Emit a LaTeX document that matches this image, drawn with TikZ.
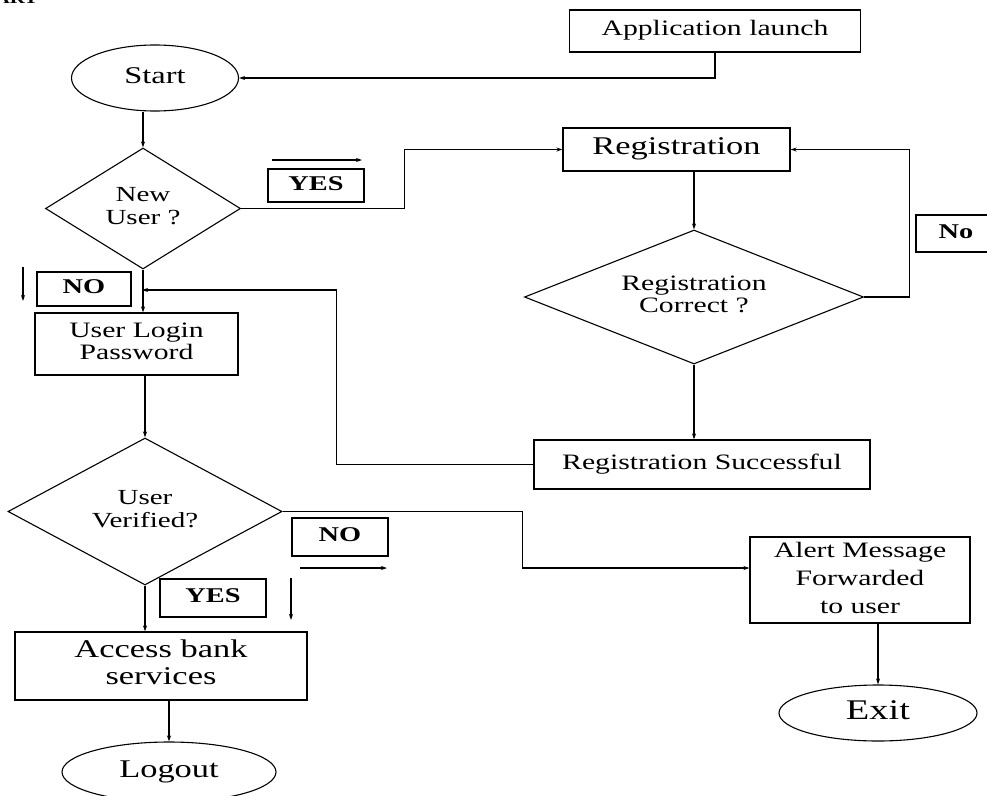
\documentclass[tikz,border=0pt]{standalone}
\usepackage{fontspec}
\setmainfont{Liberation Serif}
\usetikzlibrary{shapes.geometric,arrows.meta}
\newcommand{\wtxt}[1]{\scalebox{1.35}[1]{\begin{tabular}{@{}c@{}}#1\end{tabular}}}

\begin{document}
\begin{tikzpicture}[x=1pt, y=-1pt, line width=1.1pt,
    box/.style={draw, rectangle, inner sep=0pt},
    oval/.style={draw, ellipse, inner sep=0pt},
    dia/.style={draw, diamond, inner sep=0pt},
    lbl/.style={draw, rectangle, inner sep=0pt, font=\bfseries\fontsize{21}{23}\selectfont},
    arr/.style={-{Stealth[length=6pt,width=4pt]}}]
    \useasboundingbox (0,0) rectangle (987,795);
    \clip (0,0) rectangle (987,795);
    \node[anchor=base east, font=\bfseries\fontsize{16}{16}\selectfont] (title) at (42,4) {\scalebox{1.3}[1]{ART}};

    \node[box, minimum width=291pt, minimum height=42pt, font=\fontsize{22}{24}\selectfont] (launch) at (715,31) {\wtxt{Application launch}};
    \node[oval, minimum width=167pt, minimum height=66pt, font=\fontsize{24}{26}\selectfont] (start) at (155,78) {\wtxt{Start}};
    \node[dia, aspect=1.6, minimum width=195pt, minimum height=121pt, font=\fontsize{21.5}{23}\selectfont] (newuser) at (143,208.5) {\wtxt{New\\User ?}};
    \node[box, minimum width=227pt, minimum height=43pt, font=\fontsize{25.5}{27}\selectfont] (reg) at (676.5,149.5) {\wtxt{Registration}};
    \node[dia, aspect=2.5, minimum width=339pt, minimum height=134pt, font=\fontsize{22}{22}\selectfont] (regok) at (694,297) {\wtxt{Registration\\Correct ?}};
    \node[box, minimum width=336pt, minimum height=49pt, font=\fontsize{22}{24}\selectfont] (regdone) at (702,464.5) {\wtxt{Registration Successful}};
    \node[box, minimum width=203pt, minimum height=62pt, font=\fontsize{22}{22.5}\selectfont] (login) at (136.5,344) {\wtxt{User Login\\Password}};
    \node[dia, aspect=1.85, minimum width=274pt, minimum height=147pt, font=\fontsize{21.5}{23}\selectfont] (verified) at (145,511.5) {\wtxt{User\\Verified?}};
    \node[box, minimum width=220pt, minimum height=86pt, font=\fontsize{22}{28}\selectfont] (alert) at (860,580) {\wtxt{Alert Message\\Forwarded\\to user}};
    \node[oval, minimum width=198pt, minimum height=56pt, font=\fontsize{28.5}{30}\selectfont] (exitnode) at (878,713) {\wtxt{Exit}};
    \node[box, minimum width=292pt, minimum height=68pt, font=\fontsize{25.5}{27}\selectfont] (access) at (161,666) {\wtxt{Access bank\\services}};
    \node[oval, minimum width=214pt, minimum height=60pt, font=\fontsize{25.5}{27}\selectfont] (logout) at (169,772) {\wtxt{Logout}};

    \node[lbl, minimum width=96pt, minimum height=33pt] (yes1) at (316,185.5) {\wtxt{YES}};
    \node[lbl, minimum width=94pt, minimum height=34pt] (no1) at (84,289) {\wtxt{NO}};
    \node[lbl, minimum width=80pt, minimum height=37pt] (no2) at (956,233.5) {\wtxt{No}};
    \node[lbl, minimum width=96pt, minimum height=38pt] (no3) at (340,537) {\wtxt{NO}};
    \node[lbl, minimum width=106pt, minimum height=38pt] (yes2) at (213,598) {\wtxt{YES}};

    \coordinate (merge) at (142,290);
    \coordinate (y1a) at (272,160);
    \coordinate (y1b) at (362,160);
    \coordinate (n1a) at (23,267);
    \coordinate (n1b) at (23,301);
    \coordinate (n3a) at (300,568);
    \coordinate (n3b) at (387,568);
    \coordinate (y2a) at (291,578);
    \coordinate (y2b) at (291,620);

    \draw[arr] (launch.south) |- (start.east);
    \draw[arr] (start.south -| newuser.north) -- (newuser.north);
    \draw[arr] (newuser.east) -- ++(163,0) |- (reg.west);
    \draw[arr] (reg.south -| regok.north) -- (regok.north);
    \draw[arr] (regok.east) -- ++(45,0) |- (reg.east);
    \draw[arr] (regok.south) -- (regok.south |- regdone.north);
    \draw[arr] (regdone.west) -- ++(-197,0) |- (merge);
    \draw[arr] (newuser.south) -- (newuser.south |- login.north);
    \draw[arr] (login.south -| verified.north) -- (verified.north);
    \draw[arr] (verified.east) -- ++(240,0) |- ([yshift=12pt]alert.west);
    \draw[arr] (verified.south) -- (verified.south |- access.north);
    \draw[arr] (access.south -| logout.north) -- (logout.north);
    \draw[arr] (alert.south -| exitnode.north) -- (exitnode.north);

    \draw[arr] (y1a) -- (y1b);
    \draw[arr] (n1a) -- (n1b);
    \draw[arr] (n3a) -- (n3b);
    \draw[arr] (y2a) -- (y2b);
\end{tikzpicture}
\end{document}
